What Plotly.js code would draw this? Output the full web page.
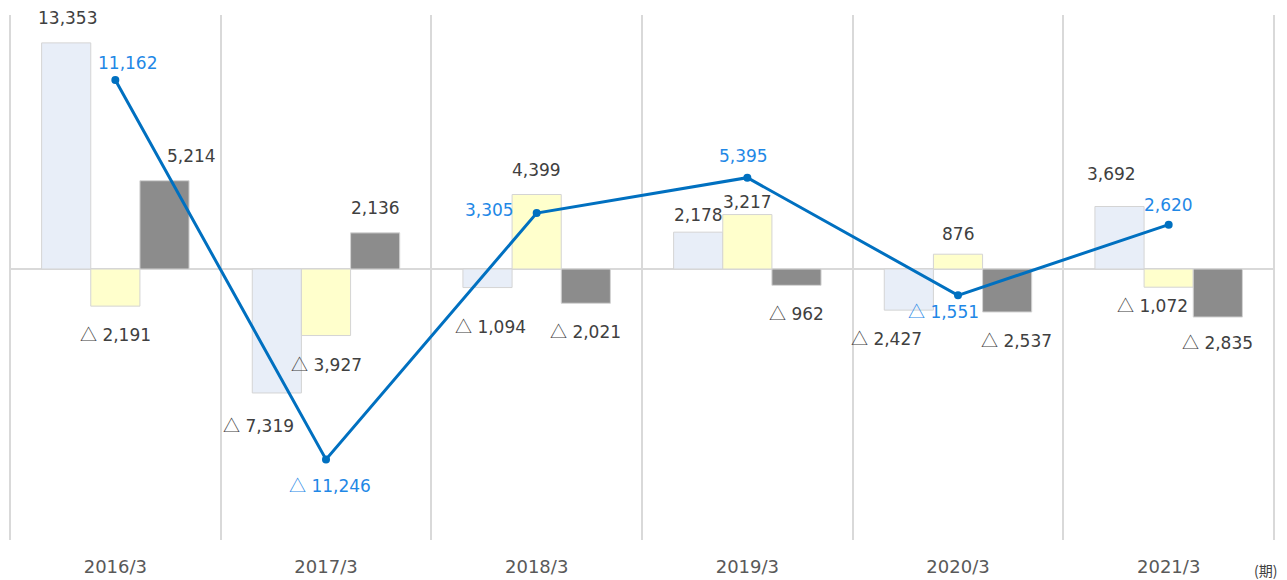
<!DOCTYPE html>
<html>
<head>
<meta charset="utf-8">
<script src="https://cdn.plot.ly/plotly-3.0.1.min.js"></script>
<style>
  html, body { margin: 0; padding: 0; background: #fff; }
  #chart { width: 1287px; height: 580px; }
</style>
</head>
<body>
<div id="chart"></div>
<script>
// ---- data ----
const categories = ["2016/3", "2017/3", "2018/3", "2019/3", "2020/3", "2021/3"];
const seriesA = [13353, -7319, -1094, 2178, -2427, 3692];   // light blue bars
const seriesB = [-2191, -3927, 4399, 3217, 876, -1072];     // light yellow bars
const seriesC = [5214, 2136, -2021, -962, -2537, -2835];    // gray bars
const lineValues = [11162, -11246, 3305, 5395, -1551, 2620]; // blue line
const unitLabel = "(期)";

// ---- styling ----
const FONT = "DejaVu Sans, Verdana, sans-serif";
const CJK = "Noto Sans CJK JP";
const barColors = ["#e8eef8", "#ffffcc", "#8c8c8c"];
const barLine = "#d4d4d4";
const lineColor = "#0070c0";
const lineLabelColor = "#1f88e6";
const labelColor = "#404040";
const BAR_W = 49; // px offset between grouped bars
const NEG_FIX = 2; // compensate CJK glyph line height

// label offsets (px): [dx, dy] with dy positive = downwards on screen
const barLabelShift = [
  [[1,-25],[-19,34],[3,40],[0,-17],[-23,29],[-8,-33]],
  [[0,29],[0,30],[0,-25],[0,-13],[0,-20],[-16,19]],
  [[27,-25],[0,-25],[0,29],[0,29],[9,29],[0,26]]
];
const lineLabelShift = [[12,-17],[4,27],[-47,-3],[-4,-22],[-15,17],[0,-20]];

function fmt(v) {
  const s = Math.abs(v).toLocaleString("en-US");
  return v < 0 ? '<span style="font-family:' + CJK + '">\u25B3</span> ' + s : s;
}

const allBars = [seriesA, seriesB, seriesC];
const traces = allBars.map((vals, i) => ({
  type: "bar",
  x: categories,
  y: vals,
  marker: { color: barColors[i], line: { color: barLine, width: 1 } },
  hoverinfo: "skip",
  showlegend: false
}));
traces.push({
  type: "scatter",
  mode: "lines+markers",
  x: categories,
  y: lineValues,
  line: { color: lineColor, width: 3 },
  marker: { color: lineColor, size: 8 },
  hoverinfo: "skip",
  showlegend: false
});

const annotations = [];
allBars.forEach((vals, s) => {
  vals.forEach((v, i) => {
    const sh = barLabelShift[s][i];
    annotations.push({
      x: categories[i], y: v, xref: "x", yref: "y",
      text: fmt(v), showarrow: false,
      xshift: (s - 1) * BAR_W + sh[0], yshift: -sh[1] + (v < 0 ? NEG_FIX : 0),
      font: { family: FONT, size: 17, color: labelColor }
    });
  });
});
lineValues.forEach((v, i) => {
  const sh = lineLabelShift[i];
  annotations.push({
    x: categories[i], y: v, xref: "x", yref: "y",
    text: fmt(v), showarrow: false,
    xshift: sh[0], yshift: -sh[1] + (v < 0 ? NEG_FIX : 0),
    font: { family: FONT, size: 17, color: lineLabelColor }
  });
});
annotations.push({
  x: 0.993, y: -0.057, xref: "paper", yref: "paper",
  text: unitLabel, showarrow: false, xanchor: "center", yanchor: "middle",
  font: { family: CJK + ", sans-serif", size: 14, color: "#404040" }
});

const layout = {
  width: 1287, height: 580,
  margin: { l: 10, r: 13, t: 15, b: 40 },
  paper_bgcolor: "#ffffff", plot_bgcolor: "#ffffff",
  barmode: "group", bargap: 0.3, bargroupgap: 0,
  showlegend: false,
  hovermode: false,
  font: { family: FONT, size: 17, color: "#595959" },
  xaxis: {
    type: "category",
    tickson: "boundaries",
    showgrid: true, gridcolor: "#d9d9d9", gridwidth: 2,
    showline: false, zeroline: false,
    ticks: "", ticklabelstandoff: 14,
    tickfont: { family: FONT, size: 18, color: "#595959" },
    fixedrange: true
  },
  yaxis: {
    range: [-16000, 15000],
    showgrid: false, showticklabels: false, ticks: "",
    zeroline: true, zerolinecolor: "#d9d9d9", zerolinewidth: 2,
    showline: false, fixedrange: true
  },
  shapes: [0, 1].map(px => ({
    type: "line", xref: "paper", yref: "paper",
    x0: px, x1: px, y0: 0, y1: 1,
    line: { color: "#d9d9d9", width: 2 }, layer: "below"
  })),
  annotations: annotations
};

Plotly.newPlot("chart", traces, layout, { staticPlot: true, displayModeBar: false });
</script>
</body>
</html>
